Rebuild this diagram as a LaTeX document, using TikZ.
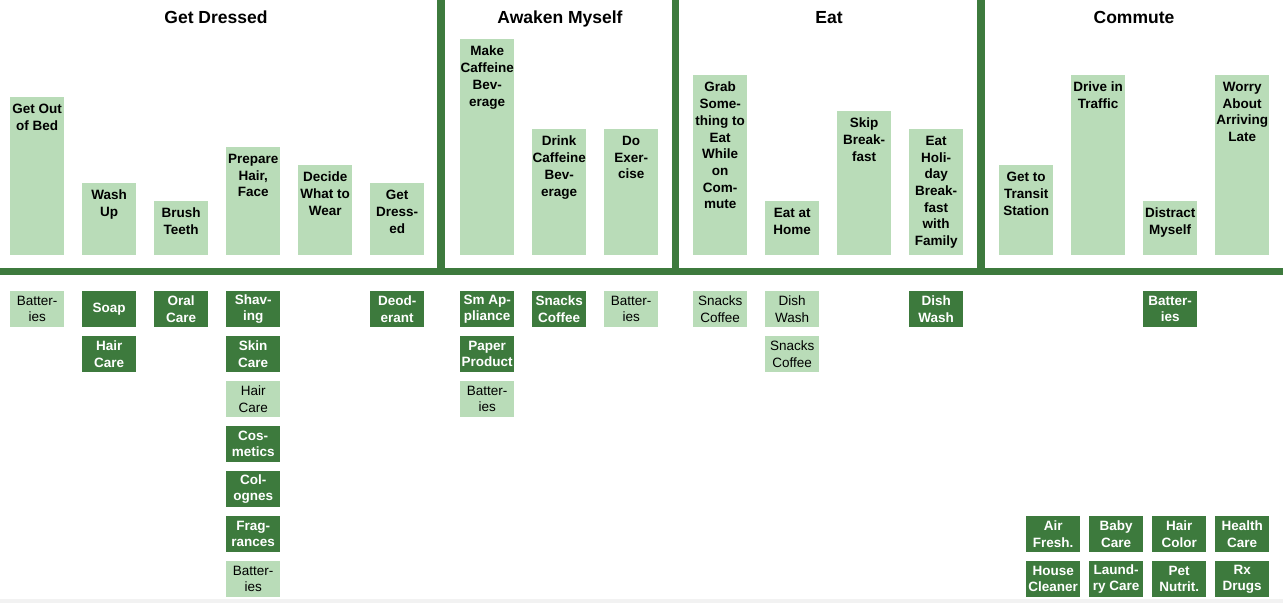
\documentclass[tikz,border=0pt]{standalone}
\usepackage{fontspec}
\setmainfont{Liberation Sans}
\usetikzlibrary{positioning}
\definecolor{pale}{RGB}{185,220,184}
\definecolor{leaf}{RGB}{61,122,61}

\begin{document}
\begin{tikzpicture}[x=1pt, y=-1pt,
    frame/.style={draw=leaf, line width=7.5pt},
    phase/.style={anchor=base, font=\fontsize{17.5}{20}\selectfont\bfseries},
    actbar/.style={fill=pale, anchor=north west, minimum width=54pt, inner sep=0pt},
    acttext/.style={anchor=north, align=center, inner sep=0pt, font=\fontsize{13.5}{16.7}\selectfont\bfseries},
    prod/.style={anchor=north west, minimum width=54pt, minimum height=36pt, inner sep=0pt, align=center},
    proddark/.style={prod, fill=leaf, text=white, font=\fontsize{13.5}{16.2}\selectfont\bfseries},
    prodlight/.style={prod, fill=pale, text=black, font=\fontsize{13.5}{16.2}\selectfont}]
    \useasboundingbox (0,0) rectangle (1283,603);
    \fill[black!5] (0,599) rectangle (1283,603);

    % Rahmen
    \draw[frame] (0,271.5) -- (1283,271.5);
    \foreach \x in {441,675.5,981}
        \draw[frame] (\x,0) -- (\x,271.5);

    % Phasen
    \node[phase] (tdress) at (216,23) {Get Dressed};
    \node[phase] (tawake) at (560,23) {Awaken Myself};
    \node[phase] (teat) at (829,23) {Eat};
    \node[phase] (tcommute) at (1134,23) {Commute};

    % Aktivitaeten
    \foreach \x/\t/\txt [count=\n] in {
        10/97/{Get Out\\of Bed}, 82/183/{Wash\\Up}, 154/201/{Brush\\Teeth},
        226/147/{Prepare\\Hair,\\Face}, 298/165/{Decide\\What to\\Wear}, 370/183/{Get\\Dress-\\ed},
        460/39/{Make\\Caffeine\\Bev-\\erage}, 532/129/{Drink\\Caffeine\\Bev-\\erage}, 604/129/{Do\\Exer-\\cise},
        693/75/{Grab\\Some-\\thing to\\Eat\\While\\on\\Com-\\mute}, 765/201/{Eat at\\Home},
        837/111/{Skip\\Break-\\fast}, 909/129/{Eat\\Holi-\\day\\Break-\\fast\\with\\Family},
        999/165/{Get to\\Transit\\Station}, 1071/75/{Drive in\\Traffic},
        1143/201/{Distract\\Myself}, 1215/75/{Worry\\About\\Arriving\\Late}} {
        \node[actbar, minimum height={255pt-\t pt}] (b\n) at (\x,\t) {};
        \node[acttext, below=7pt of b\n.north] (b\n-t) {\txt};
    }

    % Produkte
    \foreach \x/\y/\txt [count=\n] in {
        82/291/Soap, 82/336/{Hair\\Care}, 154/291/{Oral\\Care},
        226/291/{Shav-\\ing}, 226/336/{Skin\\Care}, 226/426/{Cos-\\metics},
        226/471/{Col-\\ognes}, 226/516/{Frag-\\rances}, 370/291/{Deod-\\erant},
        460/291/{Sm Ap-\\pliance}, 460/336/{Paper\\Product}, 532/291/{Snacks\\Coffee},
        909/291/{Dish\\Wash}, 1143/291/{Batter-\\ies},
        1026/516/{Air\\Fresh.}, 1089/516/{Baby\\Care}, 1152/516/{Hair\\Color}, 1215/516/{Health\\Care},
        1026/561/{House\\Cleaner}, 1089/561/{Laund-\\ry Care}, 1152/561/{Pet\\Nutrit.}, 1215/561/{Rx\\Drugs}}
        \node[proddark] (pd\n) at (\x,\y) {\txt};
    \foreach \x/\y/\txt [count=\n] in {
        10/291/{Batter-\\ies}, 226/381/{Hair\\Care}, 226/561/{Batter-\\ies},
        460/381/{Batter-\\ies}, 604/291/{Batter-\\ies}, 693/291/{Snacks\\Coffee},
        765/291/{Dish\\Wash}, 765/336/{Snacks\\Coffee}}
        \node[prodlight] (pl\n) at (\x,\y) {\txt};

\end{tikzpicture}
\end{document}
